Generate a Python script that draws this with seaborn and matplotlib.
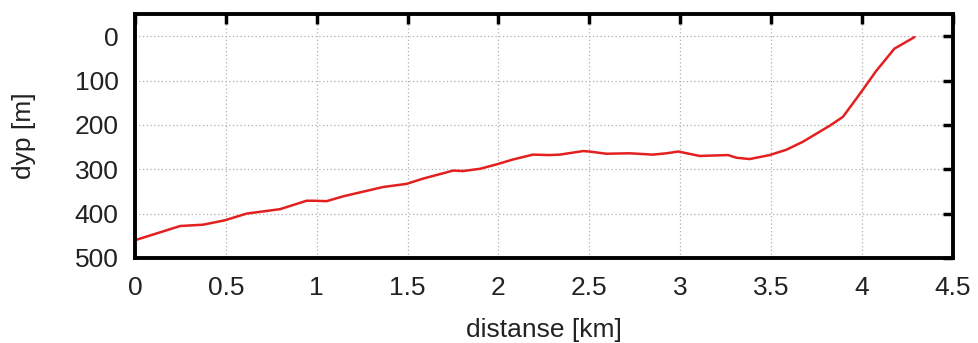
import matplotlib
matplotlib.use("Agg")
import matplotlib.pyplot as plt
import seaborn as sns
import pandas as pd

distance_km = [0.0, 0.248, 0.375, 0.495, 0.614, 0.798, 0.944, 0.99, 1.054, 1.146,
               1.366, 1.494, 1.586, 1.751, 1.806, 1.898, 1.99, 2.08, 2.19, 2.28,
               2.338, 2.466, 2.5, 2.595, 2.723, 2.851, 2.925, 2.99, 3.108, 3.264,
               3.31, 3.383, 3.493, 3.585, 3.676, 3.823, 3.896, 3.988, 4.08, 4.18, 4.29]
depth_m = [460, 428, 425, 415, 400, 390, 371, 371, 372, 361,
           340, 333, 321, 303, 304, 299, 289, 278, 267, 268,
           267, 259, 260, 265, 264, 267, 264, 260, 270, 268,
           274, 277, 268, 256, 238, 202, 182, 131, 78, 28, 2]
x_ticks = [0, 0.5, 1, 1.5, 2, 2.5, 3, 3.5, 4, 4.5]
x_tick_labels = ["0", "0.5", "1", "1.5", "2", "2.5", "3", "3.5", "4", "4.5"]
y_ticks = [0, 100, 200, 300, 400, 500]

sns.set_theme(style="white")
plt.rcParams["font.family"] = ["Liberation Sans", "DejaVu Sans"]

df = pd.DataFrame({"distanse": distance_km, "dyp": depth_m})

fig = plt.figure(figsize=(9.79, 3.43), dpi=100)
ax = fig.add_axes([0.138, 0.248, 0.835, 0.711])
sns.lineplot(data=df, x="distanse", y="dyp", ax=ax, color="#e3201f", linewidth=1.8)

ax.set_xlim(0, 4.5)
ax.set_ylim(500, -50)
ax.set_xticks(x_ticks)
ax.set_xticklabels(x_tick_labels)
ax.set_yticks(y_ticks)
ax.grid(True, color="#b0b0b0", linestyle=(0, (1, 2)), linewidth=0.9)
for s in ax.spines.values():
    s.set_color("black")
    s.set_linewidth(2.8)
ax.tick_params(direction="in", length=7, width=2.5, top=True, right=True,
               labelsize=19, colors="black")
ax.tick_params(axis="x", labelcolor="#222222", pad=13)
ax.tick_params(axis="y", labelcolor="#222222", pad=12)
ax.set_xlabel("distanse [km]", fontsize=19, color="#222222", labelpad=13)
ax.set_ylabel("dyp [m]", fontsize=19, color="#222222", labelpad=28)

fig.savefig("out.png", dpi=100)
